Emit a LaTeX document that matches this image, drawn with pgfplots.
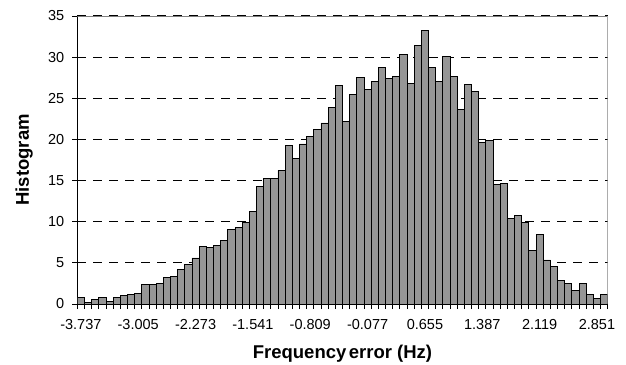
\documentclass[border=0pt]{standalone}
\usepackage{pgfplots}
\pgfplotsset{compat=1.18}
\usepackage{fontspec}
\setmainfont{Liberation Sans}
\definecolor{barfill}{HTML}{969696}
\begin{document}
\begin{tikzpicture}
\useasboundingbox (0,0) rectangle (626bp,365bp);
\begin{axis}[
  at={(77.3bp,61bp)}, anchor=south west,
  scale only axis, width=530.4bp, height=288bp,
  xmin=-0.5, xmax=73.5, ymin=0, ymax=35,
  axis x line=bottom, axis y line=left,
  axis line style={-, black, line width=1bp},
  x axis line style={line width=1.6bp},
  ytick={0,5,...,35},
  xtick={0,8,...,72},
  xticklabels={-3.737,-3.005,-2.273,-1.541,-0.809,-0.077,0.655,1.387,2.119,2.851},
  minor xtick={-0.5,0.5,...,73.5},
  major x tick style={draw=none},
  tick align=outside, major tick length=5bp, minor tick length=5bp,
  tick style={black, line width=0.8bp},
  ymajorgrids, grid style={black, dash pattern=on 9bp off 7bp, line width=1bp},
  ticklabel style={font=\fontsize{14.5bp}{16bp}\selectfont},
  /pgf/number format/assume math mode=true,
  xticklabel style={yshift=-7bp},
  yticklabel style={xshift=-4.5bp},
  xlabel={Frequency\kern2.5bp error (Hz)}, ylabel={Histogram},
  label style={font=\bfseries\fontsize{18.5bp}{20bp}\selectfont},
  xlabel style={at={(axis description cs:0.5,-0.172)}, anchor=center},
  ylabel style={at={(axis description cs:-0.1000,0.5)}, anchor=center},
  ybar, bar width=1, bar shift=0,
]
\addplot[fill=barfill, draw=black, line width=0.8bp] coordinates {
(0,0.8) (1,0.15) (2,0.5) (3,0.8) (4,0.3) (5,0.8) (6,1.0) (7,1.15) (8,1.3) (9,2.4)
(10,2.4) (11,2.55) (12,3.2) (13,3.35) (14,4.2) (15,4.8) (16,5.6) (17,7.0) (18,6.85) (19,7.15)
(20,7.7) (21,9.1) (22,9.25) (23,9.9) (24,11.2) (25,14.3) (26,15.3) (27,15.3) (28,16.25) (29,19.3)
(30,17.65) (31,19.45) (32,20.4) (33,21.2) (34,22.0) (35,23.9) (36,26.55) (37,22.15) (38,25.5) (39,27.55)
(40,26.1) (41,27.1) (42,28.8) (43,27.4) (44,27.7) (45,30.3) (46,26.8) (47,31.4) (48,33.25) (49,28.8)
(50,27.1) (51,30.05) (52,27.6) (53,23.6) (54,26.7) (55,25.85) (56,19.65) (57,19.85) (58,14.55) (59,14.7)
(60,10.35) (61,10.8) (62,9.9) (63,6.55) (64,8.45) (65,5.35) (66,4.55) (67,2.9) (68,2.45) (69,1.65)
(70,2.45) (71,1.2) (72,0.65) (73,1.2)
};
\draw[gray, line width=0.8bp] (rel axis cs:0,1) -- (rel axis cs:1,1) -- (rel axis cs:1,0);
\end{axis}
\end{tikzpicture}
\end{document}
